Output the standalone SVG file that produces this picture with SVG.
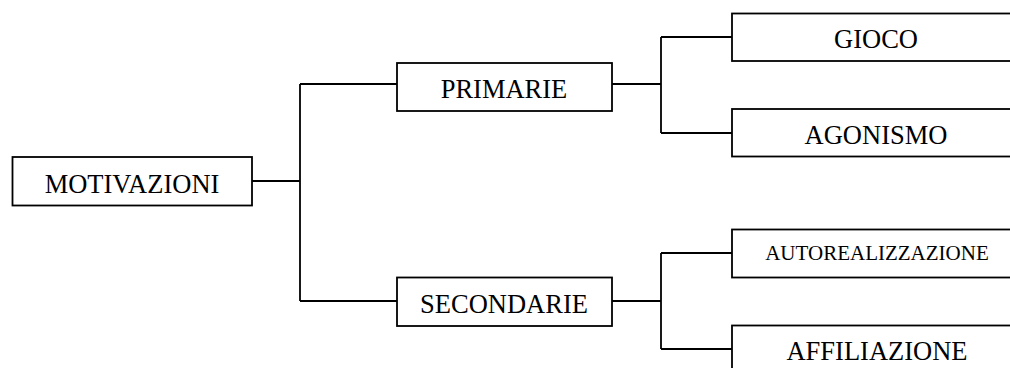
<svg xmlns="http://www.w3.org/2000/svg" width="1010" height="368" viewBox="0 0 1010 368">
<style>
.box{fill:#fff;stroke:#000;stroke-width:1.8}
.ln{fill:none;stroke:#000;stroke-width:1.8}
text{font-family:"Liberation Serif","Times New Roman",serif;fill:#000;text-anchor:middle}
.big{font-size:26.5px}
.small{font-size:21px}
</style>
<rect width="1010" height="368" fill="#fff"/>
<g id="connectors">
<path class="ln" d="M252,181 H300 M300,84 V301 M300,84 H397 M300,301 H397"/>
<path class="ln" d="M612,84 H661 M661,37 V133 M661,37 H732 M661,133 H732"/>
<path class="ln" d="M612,301 H661 M661,253 V349 M661,253 H732 M661,349 H732"/>
</g>
<g id="motivazioni">
<rect class="box" x="12.5" y="157" width="239.5" height="48.5"/>
<text class="big" x="132" y="193">MOTIVAZIONI</text>
</g>
<g id="primarie">
<rect class="box" x="397" y="63" width="215" height="48"/>
<text class="big" x="504" y="97.5">PRIMARIE</text>
</g>
<g id="secondarie">
<rect class="box" x="397" y="277.5" width="215" height="48.5"/>
<text class="big" x="504" y="312.5">SECONDARIE</text>
</g>
<g id="gioco">
<rect class="box" x="732" y="13.5" width="290" height="47.5"/>
<text class="big" x="876" y="47.5">GIOCO</text>
</g>
<g id="agonismo">
<rect class="box" x="732" y="109" width="290" height="47.5"/>
<text class="big" x="876" y="144">AGONISMO</text>
</g>
<g id="autorealizzazione">
<rect class="box" x="732" y="229.5" width="290" height="48"/>
<text class="small" x="877" y="260">AUTOREALIZZAZIONE</text>
</g>
<g id="affiliazione">
<rect class="box" x="732" y="325.5" width="290" height="60"/>
<text class="big" x="877" y="360">AFFILIAZIONE</text>
</g>
</svg>
